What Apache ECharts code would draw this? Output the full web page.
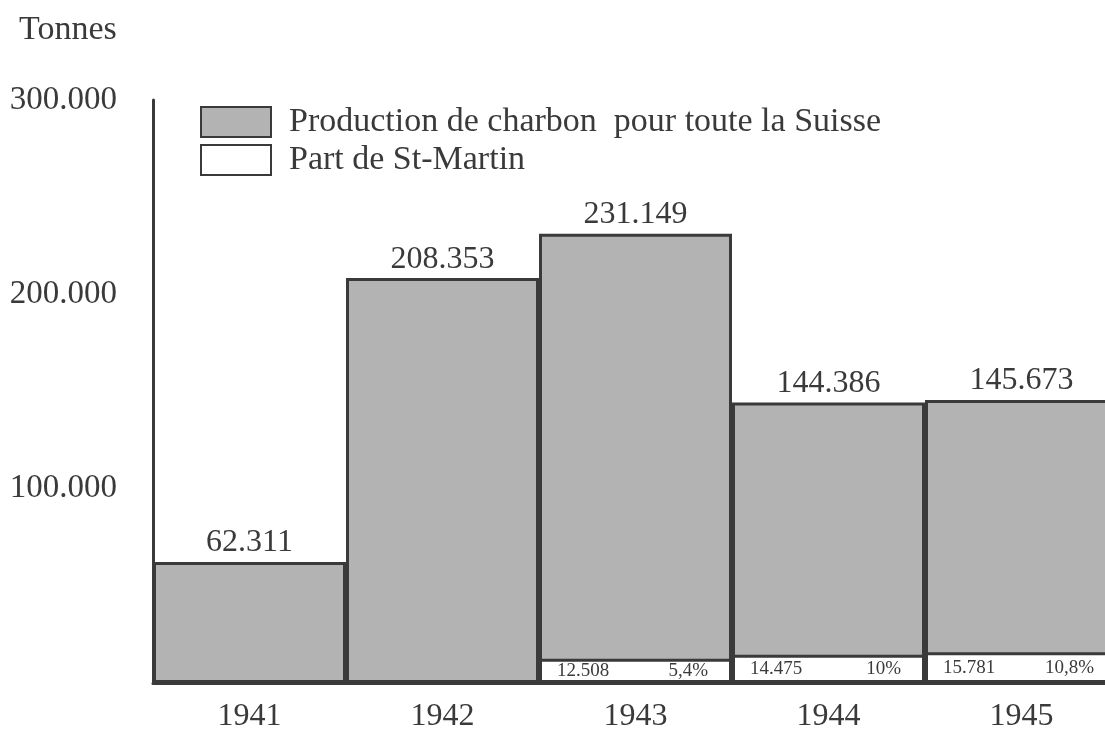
<!DOCTYPE html>
<html>
<head>
<meta charset="utf-8">
<script src="https://cdn.jsdelivr.net/npm/echarts@6/dist/echarts.min.js"></script>
<style>
  html, body { margin: 0; padding: 0; background: #fff; }
  #chart { width: 1105px; height: 729px; }
</style>
</head>
<body>
<div id="chart"></div>
<script>
  // data
  let years = ['1941', '1942', '1943', '1944', '1945']
  let suisse = [62311, 208353, 231149, 144386, 145673]
  let stMartin = [null, null, 12508, 14475, 15781]
  let stMartinPct = ['', '', '5,4%', '10%', '10,8%']
  let yTicks = [100000, 200000, 300000]

  let serif = "'Liberation Serif', 'DejaVu Serif', serif"
  let ink = '#3a3a3a'

  // 300000 -> 300.000
  function fmt(v) {
    return String(v).replace(/\B(?=(\d{3})+(?!\d))/g, '.')
  }

  let chart = document.getElementById('chart')
  let myChart = echarts.init(chart)

  const option = {
    animation: false,
    backgroundColor: '#fff',
    title: {
      text: 'Tonnes',
      left: 14,
      top: 8,
      textStyle: { fontFamily: serif, fontSize: 34, fontWeight: 'normal', color: ink }
    },
    legend: {
      data: ['Production de charbon  pour toute la Suisse', 'Part de St-Martin'],
      orient: 'vertical',
      left: 195,
      top: 100,
      itemWidth: 70,
      itemHeight: 30,
      itemGap: 4,
      icon: 'rect',
      textStyle: { fontFamily: serif, fontSize: 34, lineHeight: 30, color: ink, padding: [0, 0, 0, 13] }
    },
    grid: {
      left: 153,
      right: -13,
      top: 100,
      bottom: 46,
      outerBoundsMode: 'none'
    },
    xAxis: {
      type: 'category',
      data: years,
      axisLine: { lineStyle: { color: ink, width: 3 } },
      axisTick: { show: false },
      axisLabel: { fontFamily: serif, fontSize: 32, color: ink, margin: 18 }
    },
    yAxis: {
      type: 'value',
      min: 0,
      max: yTicks[yTicks.length - 1],
      interval: 100000,
      splitLine: { show: false },
      axisTick: { show: false },
      axisLine: { show: true, lineStyle: { color: ink, width: 3 } },
      axisLabel: {
        fontFamily: serif,
        fontSize: 33,
        color: ink,
        margin: 36,
        formatter: function (v) { return yTicks.indexOf(v) >= 0 ? fmt(v) : '' }
      }
    },
    series: [
      {
        name: 'Production de charbon  pour toute la Suisse',
        type: 'bar',
        data: suisse,
        barCategoryGap: 0,
        barGap: '-100%',
        itemStyle: { color: '#b3b3b3', borderColor: ink, borderWidth: 3 },
        label: {
          show: true,
          position: 'top',
          distance: 3,
          fontFamily: serif,
          fontSize: 32,
          color: ink,
          formatter: function (p) { return fmt(p.value) }
        }
      },
      {
        name: 'Part de St-Martin',
        type: 'bar',
        data: stMartin,
        barGap: '-100%',
        z: 3,
        itemStyle: { color: '#fff', borderColor: ink, borderWidth: 3 },
        label: {
          show: true,
          position: 'insideLeft',
          distance: 18,
          fontFamily: serif,
          fontSize: 19,
          color: ink,
          formatter: function (p) { return p.value ? fmt(p.value) : '' }
        }
      },
      {
        name: 'pct',
        type: 'bar',
        data: stMartin,
        barGap: '-100%',
        z: 4,
        silent: true,
        itemStyle: { color: 'rgba(0,0,0,0)', borderWidth: 0 },
        label: {
          show: true,
          position: 'insideRight',
          distance: 24,
          fontFamily: serif,
          fontSize: 19,
          color: ink,
          formatter: function (p) { return stMartinPct[p.dataIndex] }
        }
      }
    ]
  }
  myChart.setOption(option)
</script>
</body>
</html>
